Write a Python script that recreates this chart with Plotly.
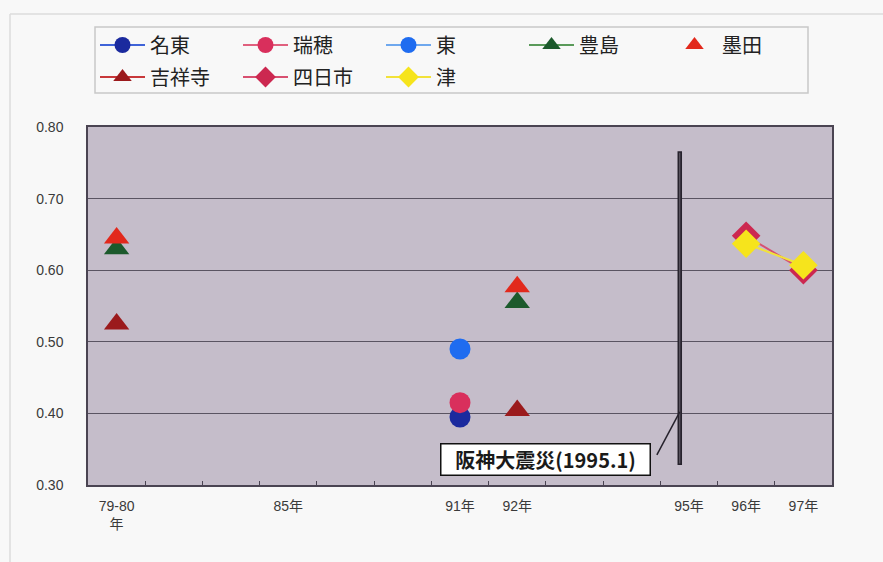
import plotly.graph_objects as go

# Category slots along the x axis (blank slots keep the year spacing)
slots = ["79-80<br>年", "", "", "85年", "", "", "91年", "92年", "", "", "95年", "96年", "97年"]
tick_labels = ["79-80<br>年", "85年", "91年", "92年", "95年", "96年", "97年"]

# Series values per slot (None = no survey in that period)
#            79-80 .     .     85    .     .     91     92     .     .     95    96     97
meito     = [None, None, None, None, None, None, 0.395, None, None, None, None, None, None]
mizuho    = [None, None, None, None, None, None, 0.415, None, None, None, None, None, None]
higashi   = [None, None, None, None, None, None, 0.490, None, None, None, None, None, None]
toshima   = [0.630, None, None, None, None, None, None, 0.555, None, None, None, None, None]
sumida    = [0.645, None, None, None, None, None, None, 0.577, None, None, None, None, None]
kichijoji = [0.525, None, None, None, None, None, None, 0.404, None, None, None, None, None]
yokkaichi = [None, None, None, None, None, None, None, None, None, None, None, 0.648, 0.600]
tsu       = [None, None, None, None, None, None, None, None, None, None, None, 0.637, 0.607]

series = [
    # name, values, marker symbol, marker colour, line colour, mode, legend
    ("名東", meito, "circle", "#1b2a9e", "#3f63d8", "lines+markers", "legend"),
    ("瑞穂", mizuho, "circle", "#d92f5c", "#e0607e", "lines+markers", "legend"),
    ("東", higashi, "circle", "#1f6cf0", "#6fa8ee", "lines+markers", "legend"),
    ("豊島", toshima, "triangle-up", "#1c5a2c", "#5a9a5a", "lines+markers", "legend"),
    ("墨田", sumida, "triangle-up", "#e2291c", "#e2291c", "markers", "legend"),
    ("吉祥寺", kichijoji, "triangle-up", "#9b1a1c", "#c8383a", "lines+markers", "legend2"),
    ("四日市", yokkaichi, "diamond", "#cc2850", "#d85070", "lines+markers", "legend2"),
    ("津", tsu, "diamond", "#f6e41c", "#f2e23a", "lines+markers", "legend2"),
]

xpos = list(range(len(slots)))

fig = go.Figure()
for name, ys, sym, mc, lc, mode, lg in series:
    fig.add_trace(go.Scatter(
        x=xpos, y=ys, name=name, mode=mode, legend=lg, connectgaps=False,
        marker=dict(symbol=sym, color=mc, size=22 if sym != "circle" else 21,
                    line=dict(width=0)),
        line=dict(color=lc, width=2),
    ))

# Earthquake marker line and its callout
quake_x = 9.84
fig.add_shape(type="line", x0=quake_x, x1=quake_x, y0=0.328, y1=0.766,
              xref="x", yref="y", line=dict(color="#26222c", width=4.5))
fig.add_shape(type="line", x0=quake_x, x1=quake_x, y0=0.330, y1=0.764,
              xref="x", yref="y", line=dict(color="#6a6470", width=1))
fig.add_shape(type="line", x0=9.44, x1=quake_x, y0=0.342, y1=0.402,
              xref="x", yref="y", line=dict(color="#26222c", width=1.5))
fig.add_annotation(x=7.49, y=0.336, xref="x", yref="y", showarrow=False,
                   text="<b>阪神大震災(1995.1)</b>", width=204, height=26,
                   font=dict(family="Noto Sans CJK JP", size=20, color="#1a1a1a"),
                   bgcolor="white", bordercolor="#111", borderwidth=1.5, borderpad=2)

# Legend frame and faint outer chart frame
fig.add_shape(type="rect", xref="paper", yref="paper",
              x0=(95 - 88) / 744, x1=(808 - 88) / 744,
              y0=(485 - 93) / 358, y1=(485 - 27) / 358,
              line=dict(color="#c8c8c8", width=1.5), fillcolor="rgba(0,0,0,0)", layer="below")
fig.add_shape(type="line", xref="paper", yref="paper",
              x0=(10 - 88) / 744, x1=(883 - 88) / 744,
              y0=(485 - 14) / 358, y1=(485 - 14) / 358,
              line=dict(color="#dcdcdc", width=1.5))
fig.add_shape(type="line", xref="paper", yref="paper",
              x0=(10 - 88) / 744, x1=(10 - 88) / 744,
              y0=(485 - 14) / 358, y1=(485 - 562) / 358,
              line=dict(color="#dcdcdc", width=1.5))

legend_font = dict(family="Noto Sans CJK JP", size=20, color="#222")
legend_common = dict(orientation="h", x=(95 - 88) / 744, xanchor="left", yanchor="middle",
                     font=legend_font, entrywidth=83, entrywidthmode="pixels",
                     itemwidth=45, bgcolor="rgba(0,0,0,0)", tracegroupgap=0)
fig.update_layout(
    width=883, height=562,
    margin=dict(l=88, r=51, t=127, b=77),
    paper_bgcolor="#f8f8f8",
    plot_bgcolor="#c5bdca",
    font=dict(family="Liberation Sans, Noto Sans CJK JP", size=13, color="#333"),
    legend=dict(y=(485 - 45) / 358, **legend_common),
    legend2=dict(y=(485 - 77) / 358, **legend_common),
    xaxis=dict(range=[-0.5, len(slots) - 0.5],
               tickvals=[slots.index(t) for t in tick_labels], ticktext=tick_labels,
               showgrid=False, zeroline=False, showline=True, mirror=True,
               linecolor="#4a4452", linewidth=1.5, ticks="", ticklabelstandoff=7,
               tickfont=dict(family="Liberation Sans, Noto Sans CJK JP", size=14, color="#3a3a3a"),
               minor=dict(tickvals=[i - 0.5 for i in range(1, len(slots))],
                          ticks="inside", ticklen=4, tickcolor="#4a4452")),
    yaxis=dict(range=[0.30, 0.80], tickvals=[0.30, 0.40, 0.50, 0.60, 0.70, 0.80],
               tickformat=".2f", showgrid=True, gridcolor="#5a5462", gridwidth=1,
               zeroline=False, showline=True, mirror=True,
               linecolor="#4a4452", linewidth=1.5, ticks="", ticklabelstandoff=20,
               tickfont=dict(family="Liberation Sans", size=14, color="#3a3a3a")),
)

fig.write_html("out.html")
